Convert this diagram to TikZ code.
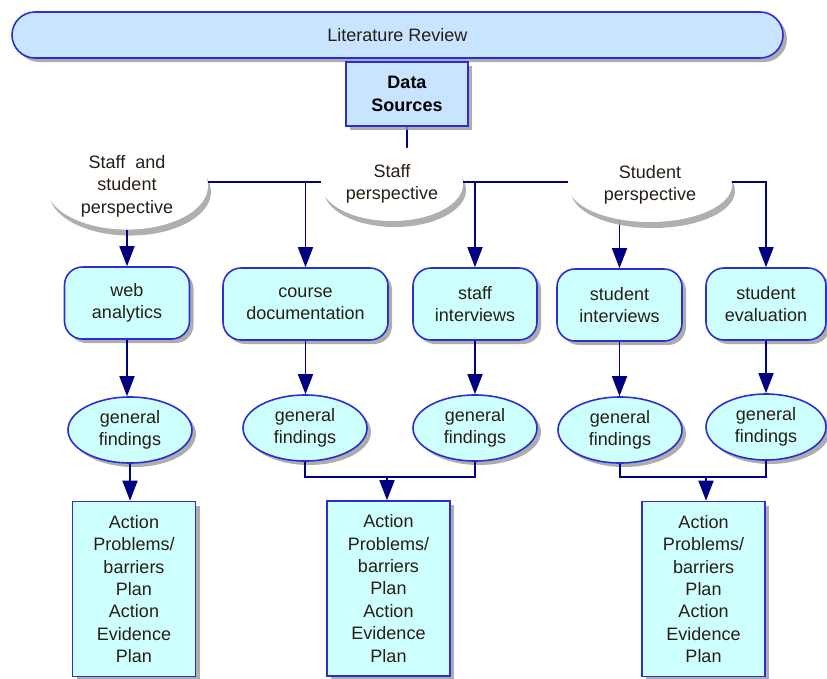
\documentclass[tikz,border=0pt]{standalone}
\usepackage{fontspec}
\setmainfont{Liberation Sans}
\usetikzlibrary{arrows.meta,shapes.geometric,shadows,positioning}
\pgfdeclarelayer{bg}
\pgfsetlayers{bg,main}
\definecolor{litblue}{RGB}{200,228,255}
\definecolor{cyanfill}{RGB}{206,255,255}
\definecolor{bordblue}{RGB}{45,45,210}
\definecolor{navy}{RGB}{0,0,128}
\definecolor{txt}{RGB}{40,30,20}
\begin{document}
\begin{tikzpicture}[x=1pt,y=-1pt,
  every node/.style={font=\fontsize{18}{22.4}\selectfont, text=txt, align=center, inner sep=0pt},
  shad/.style={drop shadow={shadow xshift=4pt, shadow yshift=-4pt, fill=gray!80, opacity=0.8}},
  pill/.style={draw=bordblue, line width=1.6pt, fill=litblue, rounded corners=23pt, shad},
  dsbox/.style={draw=bordblue, line width=1.6pt, fill=litblue, shad},
  persp/.style={ellipse, fill=white, drop shadow={shadow xshift=3pt, shadow yshift=-6pt, fill=gray!70, opacity=0.9}},
  rbox/.style={draw=bordblue, line width=1.6pt, fill=cyanfill, rounded corners=18pt, minimum height=72pt, shad},
  find/.style={ellipse, draw=bordblue, line width=1.6pt, fill=cyanfill, minimum height=66pt, shad},
  abox/.style={draw=bordblue, line width=1.6pt, fill=cyanfill, minimum width=123pt, minimum height=175pt, shad},
  conn/.style={draw=navy, line width=1.6pt},
  arr/.style={conn, -{Triangle[width=15pt,length=20pt]}},
]
\useasboundingbox (0,0) rectangle (827,678);
% top
\node[pill, minimum width=771pt, minimum height=46pt] (lit) at (397.5,35) {Literature Review};
\node[dsbox, minimum width=122pt, minimum height=64pt, font=\fontsize{18}{22.4}\selectfont\bfseries, text=black] (ds) at (407,94) {Data\\Sources};
% perspectives
\node[persp, minimum width=162pt, minimum height=80pt] (ssp) at (127,186) {Staff\ \ and\\student\\perspective};
\node[persp, minimum width=142pt, minimum height=74pt] (sp) at (392,184) {Staff\\perspective};
\node[persp, minimum width=164pt, minimum height=74pt] (stp) at (650,185) {Student\\perspective};
\coordinate (hl) at (0,182);
% sources
\node[rbox, minimum width=125pt] (web) at (127,303) {web\\analytics};
\node[rbox, minimum width=165pt] (cd) at (305.5,304) {course\\documentation};
\node[rbox, minimum width=124pt] (si) at (475,304) {staff\\interviews};
\node[rbox, minimum width=125pt] (sti) at (619.5,305) {student\\interviews};
\node[rbox, minimum width=120pt] (se) at (766,304) {student\\evaluation};
% findings
\node[find, minimum width=124pt] (f1) at (130,430) {general\\findings};
\node[find, minimum width=124pt] (f2) at (305,428) {general\\findings};
\node[find, minimum width=124pt] (f3) at (475,428) {general\\findings};
\node[find, minimum width=124pt] (f4) at (620,430) {general\\findings};
\node[find, minimum width=120pt] (f5) at (766,427) {general\\findings};
% action boxes
\node[abox] (a1) at (134,589) {Action\\Problems/\\barriers\\Plan\\Action\\Evidence\\Plan};
\node[abox] (a2) at (388.5,588.5) {Action\\Problems/\\barriers\\Plan\\Action\\Evidence\\Plan};
\node[abox] (a3) at (703.5,589) {Action\\Problems/\\barriers\\Plan\\Action\\Evidence\\Plan};
\coordinate (j1) at (387,477);
\coordinate (j2) at (706,477);
\begin{pgfonlayer}{bg}
\draw[conn] (ds.south) -- (ds.south |- sp.center);
\draw[arr] (stp.center -| sti.north) -- (sti.north);
\end{pgfonlayer}
% connectors
\draw[conn] (ssp.east |- hl) -- (sp.west |- hl);
\draw[conn] (sp.east |- hl) -- (stp.west |- hl);
\draw[arr] (ssp.south) -- (web.north);
\draw[arr] (hl -| cd.north) -- (cd.north);
\draw[arr] (hl -| si.north) -- (si.north);
\draw[arr] (stp.east |- hl) -| (se.north);
\draw[arr] (web.south) -- (web.south |- f1.north);
\draw[arr] (cd.south) -- (cd.south |- f2.north);
\draw[arr] (si.south) -- (si.south |- f3.north);
\draw[arr] (sti.south) -- (sti.south |- f4.north);
\draw[arr] (se.south) -- (se.south |- f5.north);
\draw[arr] (f1.south) -- (f1.south |- a1.north);
\draw[conn] (f2.south) |- (j1) -| (f3.south);
\draw[conn] (f4.south) |- (j2) -| (f5.south);
\draw[arr] (j1) -- (j1 |- a2.north);
\draw[arr] (j2) -- (j2 |- a3.north);
\end{tikzpicture}
\end{document}
